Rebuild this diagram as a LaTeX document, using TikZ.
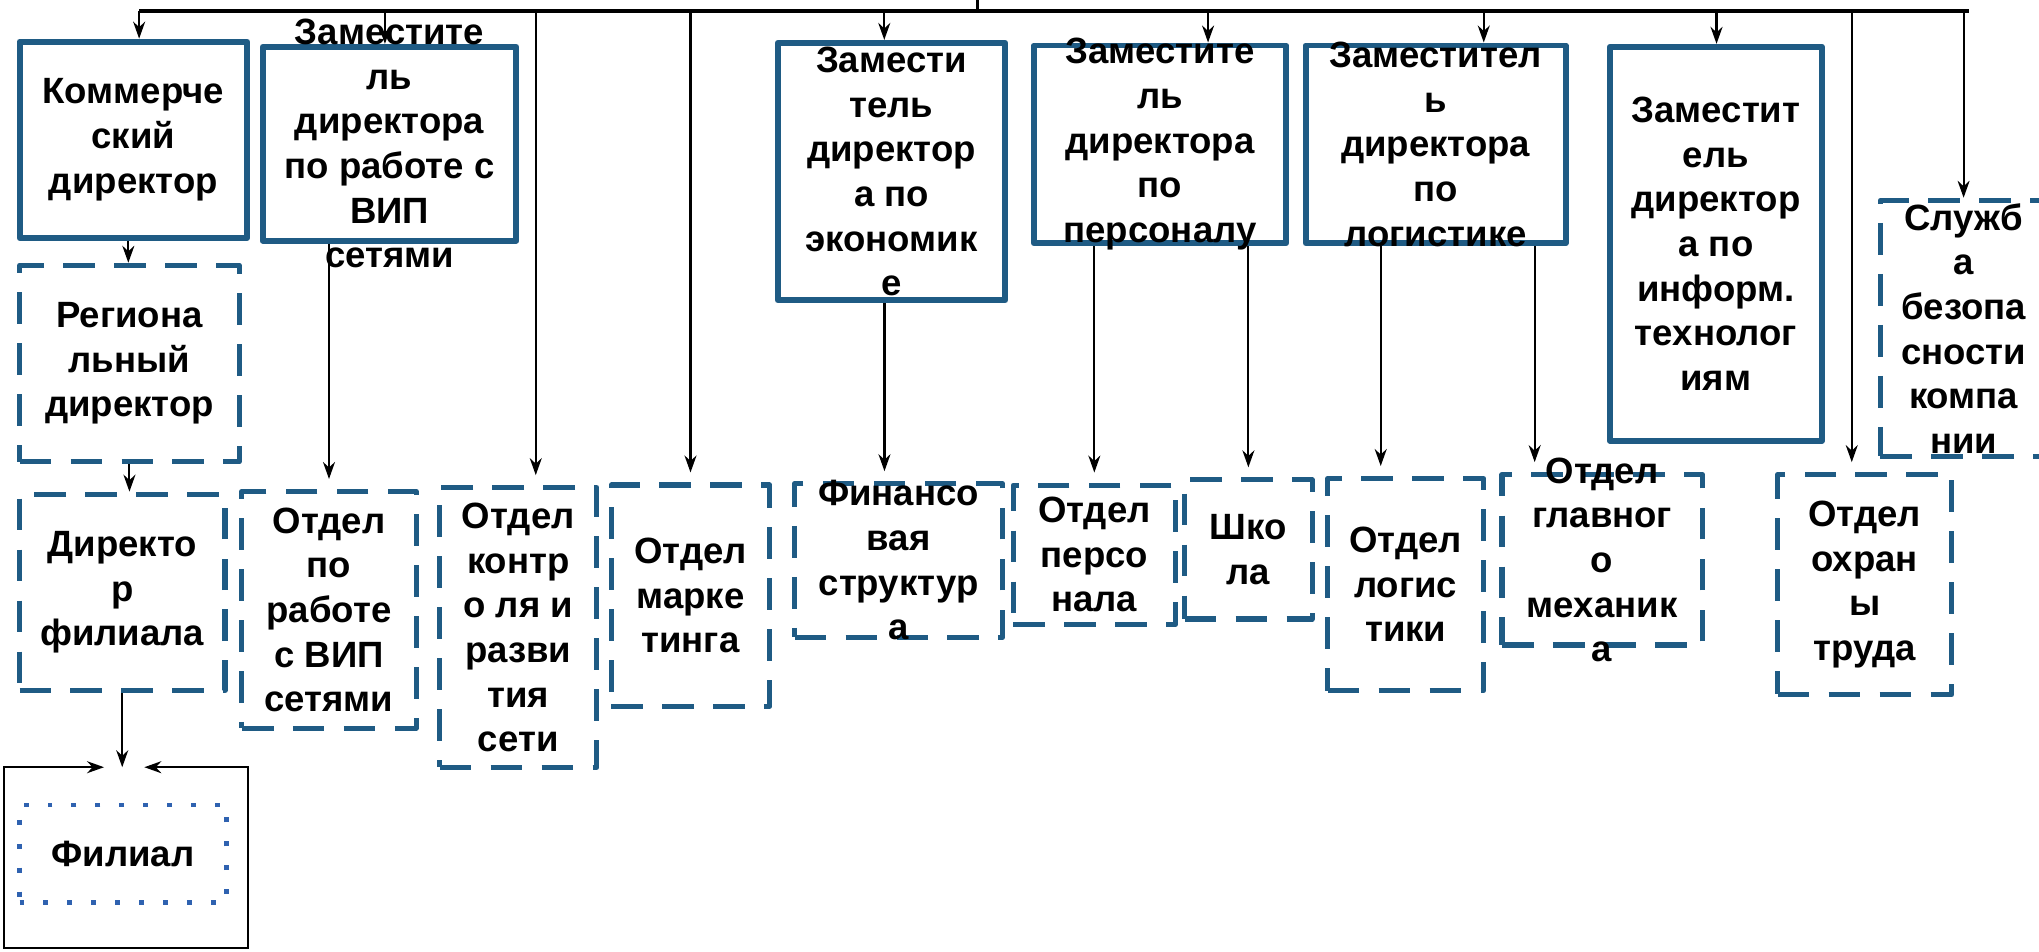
\documentclass[tikz,border=0pt]{standalone}
\usepackage{fontspec}
\setmainfont{Liberation Sans}
\usepackage{tikz}
\usetikzlibrary{arrows.meta,positioning}
\definecolor{BoxBlue}{HTML}{1F5B84}
\definecolor{DotBlue}{HTML}{2F62B0}

\begin{document}
\begin{tikzpicture}[
  solidbox/.style={draw=BoxBlue, line width=1.7pt, line join=round, inner sep=0pt},
  dashbox/.style={draw=BoxBlue, line width=1.45pt, dash pattern=on 9pt off 5.5pt, line join=round, inner sep=0pt},
  dotbox/.style={draw=DotBlue, line width=1.3pt, dash pattern=on 1.4pt off 5.4pt, inner sep=0pt},
  txt/.style={font=\fontsize{10.4}{12.7}\selectfont\bfseries, align=center, inner sep=0pt},
  conn/.style={line width=0.6pt, -{Stealth[length=1.7mm, width=1.2mm]}},
  shortgap/.style={shorten >=1mm},
]
  \useasboundingbox (0,0) rectangle (20.384,-9.516);

  \node[solidbox, minimum width=2.275cm, minimum height=1.963cm, label={[txt]center:{Коммерче\\ский\\директор}}] (kom) at (1.333,-1.398) {};
  \node[solidbox, minimum width=2.535cm, minimum height=1.937cm, label={[txt]center:{Заместите\\ль\\директора\\по работе с\\ВИП\\сетями}}] (zvip) at (3.894,-1.437) {};
  \node[solidbox, minimum width=2.275cm, minimum height=2.574cm, label={[txt]center:{Замести\\тель\\директор\\а по\\экономик\\е}}] (zeco) at (8.912,-1.716) {};
  \node[solidbox, minimum width=2.522cm, minimum height=1.976cm, label={[txt]center:{Заместите\\ль\\директора\\по\\персоналу}}] (zper) at (11.596,-1.443) {};
  \node[solidbox, minimum width=2.6cm, minimum height=1.976cm, label={[txt]center:{Заместител\\ь\\директора\\по\\логистике}}] (zlog) at (14.352,-1.443) {};
  \node[solidbox, minimum width=2.119cm, minimum height=3.939cm, label={[txt]center:{Заместит\\ель\\директор\\а по\\информ.\\технолог\\иям}}] (zit) at (17.154,-2.438) {};
  \node[dashbox, minimum width=1.664cm, minimum height=2.561cm, label={[txt]center:{Служб\\а\\безопа\\сности\\компа\\нии}}] (sb) at (19.63,-3.283) {};

  \node[dashbox, minimum width=2.197cm, minimum height=1.963cm, label={[txt]center:{Региона\\льный\\директор}}] (reg) at (1.294,-3.634) {};
  \node[dashbox, minimum width=2.054cm, minimum height=1.963cm, label={[txt]center:{Директо\\р\\филиала}}] (dirf) at (1.222,-5.922) {};
  \node[dashbox, minimum width=1.742cm, minimum height=2.366cm, label={[txt]center:{Отдел\\по\\работе\\с ВИП\\сетями}}] (ovip) at (3.289,-6.097) {};
  \node[dashbox, minimum width=1.573cm, minimum height=2.795cm, label={[txt]center:{Отдел\\контр\\о ля и\\разви\\тия\\сети}}] (okr) at (5.181,-6.273) {};
  \node[dashbox, minimum width=1.586cm, minimum height=2.21cm, label={[txt]center:{Отдел\\марке\\тинга}}] (omark) at (6.903,-5.954) {};
  \node[dashbox, minimum width=2.08cm, minimum height=1.534cm, label={[txt]center:{Финансо\\вая\\структур\\а}}] (fin) at (8.983,-5.603) {};
  \node[dashbox, minimum width=1.625cm, minimum height=1.391cm, label={[txt]center:{Отдел\\персо\\нала}}] (opers) at (10.94,-5.545) {};
  \node[dashbox, minimum width=1.274cm, minimum height=1.391cm, label={[txt]center:{Шко\\ла}}] (shk) at (12.48,-5.493) {};
  \node[dashbox, minimum width=1.56cm, minimum height=2.119cm, label={[txt]center:{Отдел\\логис\\тики}}] (olog) at (14.053,-5.844) {};
  \node[dashbox, minimum width=2.002cm, minimum height=1.703cm, label={[txt]center:{Отдел\\главног\\о\\механик\\а}}] (omeh) at (16.016,-5.597) {};
  \node[dashbox, minimum width=1.742cm, minimum height=2.197cm, label={[txt]center:{Отдел\\охран\\ы\\труда}}] (oot) at (18.642,-5.844) {};

  \draw[line width=0.6pt, {Stealth[length=1.7mm, width=1.2mm]}-{Stealth[length=1.7mm, width=1.2mm]}] (1.04,-7.67) -- (0.039,-7.67) -- (0.039,-9.477) -- (2.483,-9.477) -- (2.483,-7.67) -- (1.443,-7.67);
  \node[dotbox, minimum width=2.067cm, minimum height=0.975cm, label={[txt]center:{Филиал}}] (fil) at (1.229,-8.535) {};
  \coordinate (fil-top) at (1.222,-7.67);

  \coordinate (bus-l) at (1.391,-0.11);
  \coordinate (bus-r) at (19.682,-0.11);
  \coordinate (ceo) at (9.776,0);
  \draw[line width=0.9pt] (bus-l) -- (bus-r);
  \draw[line width=0.9pt] (ceo) -- (ceo |- bus-l);

  \foreach \px/\nd in {1.391/kom, 3.848/zvip, 8.84/zeco, 12.077/zper, 14.833/zlog, 17.16/zit, 19.63/sb}
  {
    \coordinate (drop-\nd) at (\px,-0.11);
    \draw[conn] (drop-\nd) -- (drop-\nd |- \nd.north);
  }
  \draw[conn, shortgap] ([xshift=1.75mm]okr.north |- bus-l) -- ([xshift=1.75mm]okr.north);
  \draw[conn, shortgap] (omark.north |- bus-l) -- (omark.north);
  \draw[conn, shortgap] ([xshift=-1.3mm]oot.north |- bus-l) -- ([xshift=-1.3mm]oot.north);

  \draw[conn] ([xshift=-0.5mm]kom.south) -- ([xshift=-0.5mm]kom.south |- reg.north);
  \draw[conn] (reg.south) -- (reg.south |- dirf.north);
  \draw[conn] (dirf.south) -- (fil-top);
  \draw[conn, shortgap] (ovip.north |- zvip.south) -- (ovip.north);
  \draw[conn, shortgap] ([xshift=-0.7mm]zeco.south) -- ([xshift=-0.7mm]zeco.south |- fin.north);
  \draw[conn, shortgap] (opers.north |- zper.south) -- (opers.north);
  \draw[conn, shortgap] (shk.north |- zper.south) -- (shk.north);
  \draw[conn, shortgap] ([xshift=-2.5mm]olog.north |- zlog.south) -- ([xshift=-2.5mm]olog.north);
  \draw[conn, shortgap] ([xshift=9.9mm]zlog.south) -- ([xshift=9.9mm]zlog.south |- omeh.north);
\end{tikzpicture}
\end{document}
